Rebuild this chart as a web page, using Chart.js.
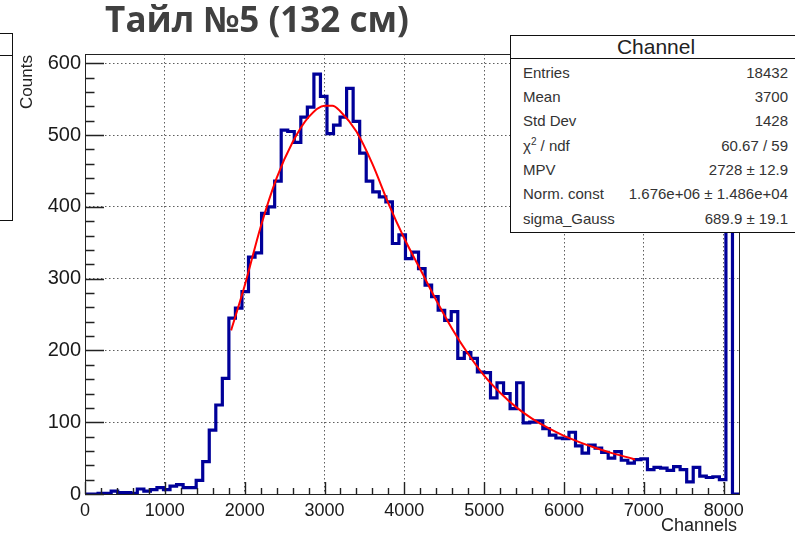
<!DOCTYPE html>
<html>
<head>
<meta charset="utf-8">
<script src="https://cdn.jsdelivr.net/npm/chart.js@4.4.0/dist/chart.umd.min.js"></script>
<style>
  body { margin: 0; background: #fff; }
  #wrap { position: relative; width: 795px; height: 536px; overflow: hidden; font-family: "Liberation Sans", Arial, sans-serif; color: #222; }
  #chart { position: absolute; left: 0; top: 0; }
  #title { position: absolute; left: 0; top: 1px; width: 514px; text-align: center; font: bold 35px/35px "Open Sans", sans-serif; color: #404040; white-space: nowrap; }
  #ylabel { position: absolute; left: -3.5px; top: 72px; width: 60px; height: 20px; line-height: 20px; font-size: 17px; text-align: center; transform: rotate(-90deg); }
  #xlabel { position: absolute; right: 58px; top: 514.7px; line-height: 20px; font-size: 18px; }
  #stats { position: absolute; left: 510px; top: 35px; width: 300px; height: 198px; border: 1px solid #111; background: #fff; box-sizing: border-box; }
  #stats .head { height: 22px; line-height: 22px; border-bottom: 1px solid #111; font-size: 21px; text-align: center; padding-right: 8px; }
  #stats .rows { margin-top: 1.6px; }
  #stats .row { display: flex; justify-content: space-between; height: 24.35px; line-height: 24.35px; font-size: 15px; padding: 0 21px 0 12px; color: #333; }
  #stats sup { font-size: 10px; line-height: 0; vertical-align: 6px; }
  #leftbox { position: absolute; left: -20px; top: 33px; width: 33px; height: 188px; border: 1px solid #111; box-sizing: border-box; background: #fff; }
  #leftbox div { height: 21px; border-bottom: 1px solid #111; }
</style>
</head>
<body>
<div id="wrap">
  <canvas id="chart" width="795" height="536"></canvas>
  <div id="title">Тайл №5 (132 см)</div>
  <div id="ylabel">Counts</div>
  <div id="xlabel">Channels</div>
  <div id="leftbox"><div></div></div>
  <div id="stats"><div class="head">Channel</div><div class="rows"></div></div>
</div>
<script>
// histogram: 100 bins over 0..8192 channels
var xMin = 0, xMax = 8192, nBins = 100;
var counts = [
  0, 0, 1, 1, 4, 2, 2, 1, 7, 4,
  6, 9, 6, 11, 13, 9, 9, 19, 45, 89,
  124, 161, 245, 259, 282, 330, 336, 391, 400, 436,
  507, 505, 490, 525, 539, 585, 554, 502, 514, 525,
  565, 519, 475, 436, 421, 414, 407, 349, 361, 328,
  337, 314, 291, 275, 256, 242, 254, 189, 197, 189,
  170, 169, 134, 155, 140, 119, 155, 99, 100, 102,
  91, 82, 78, 77, 86, 67, 57, 68, 64, 58,
  50, 59, 47, 43, 48, 49, 34, 37, 36, 33,
  38, 34, 17, 37, 25, 23, 24, 20, 440, 0
];

// fit curve (Landau x Gauss)
var fitX = [1830, 2000, 2200, 2400, 2600, 2800, 3000, 3100, 3200, 3400, 3600, 3800, 4000, 4200, 4400, 4600, 4800, 5000, 5200, 5400, 5600, 5800, 6000, 6200, 6400, 6600, 6800, 6890];
var fitY = [228, 290, 372, 440, 490, 525, 541, 541, 533, 505, 460, 405, 356, 313, 270, 230, 195, 165, 141, 121, 105, 92, 81, 72, 64, 57, 51, 48];

var yMax = 613;
var xTicks = [0, 1000, 2000, 3000, 4000, 5000, 6000, 7000, 8000];
var yTicks = [0, 100, 200, 300, 400, 500, 600];

var statLabels = ["Entries", "Mean", "Std Dev", "χ<sup>2</sup> / ndf", "MPV", "Norm. const", "sigma_Gauss"];
var statValues = ["18432", "3700", "1428", "60.67 / 59", "2728 ± 12.9", "1.676e+06 ± 1.486e+04", "689.9 ± 19.1"];

var rowsEl = document.querySelector('#stats .rows');
for (var i = 0; i < statLabels.length; i++) {
  var r = document.createElement('div');
  r.className = 'row';
  r.innerHTML = '<span>' + statLabels[i] + '</span><span>' + statValues[i] + '</span>';
  rowsEl.appendChild(r);
}

var binWidth = (xMax - xMin) / nBins;
var histPoints = [];
for (var i = 0; i <= nBins; i++) {
  histPoints.push({ x: xMin + i * binWidth, y: i < nBins ? counts[i] : 0 });
}
var fitPoints = fitX.map(function (x, i) { return { x: x, y: fitY[i] }; });

// ROOT style frame and inside ticks
var rootFrame = {
  id: 'rootFrame',
  afterDatasetsDraw: function (chart) {
    var ctx = chart.ctx, a = chart.chartArea, xs = chart.scales.x, ys = chart.scales.y;
    ctx.save();
    ctx.strokeStyle = '#222';
    ctx.lineWidth = 1;
    ctx.strokeRect(Math.round(a.left) + 0.5, Math.round(a.top) + 0.5, Math.round(a.right - a.left), Math.round(a.bottom - a.top));
    ctx.beginPath();
    for (var v = 0; v <= yMax; v += 20) {
      var py = Math.round(ys.getPixelForValue(v)) + 0.5;
      var len = v % 100 === 0 ? 19 : 9.5;
      ctx.moveTo(a.left, py); ctx.lineTo(a.left + len, py);
    }
    for (var v = 0; v <= xMax; v += 200) {
      var px = Math.round(xs.getPixelForValue(v)) + 0.5;
      var len = v % 1000 === 0 ? 12 : 6;
      ctx.moveTo(px, a.bottom); ctx.lineTo(px, a.bottom - len);
    }
    ctx.lineWidth = 1.4;
    ctx.stroke();
    ctx.restore();
  }
};

new Chart(document.getElementById('chart'), {
  type: 'line',
  data: {
    datasets: [{
      label: 'fit',
      data: fitPoints,
      borderColor: '#ff0000',
      borderWidth: 2,
      pointRadius: 0,
      cubicInterpolationMode: 'monotone',
      fill: false
    }, {
      label: 'Channel',
      data: histPoints,
      borderColor: '#000099',
      borderWidth: 3.2,
      pointRadius: 0,
      stepped: true,
      borderJoinStyle: 'miter',
      fill: false
    }]
  },
  options: {
    responsive: false,
    animation: false,
    devicePixelRatio: 1,
    layout: { padding: { top: 54, right: 56, left: 0, bottom: 0 } },
    plugins: { legend: { display: false }, tooltip: { enabled: false } },
    scales: {
      x: {
        type: 'linear',
        min: xMin,
        max: xMax,
        afterFit: function (s) { s.height = 42; },
        afterBuildTicks: function (s) { s.ticks = xTicks.map(function (v) { return { value: v }; }); },
        ticks: { padding: 6, color: '#1a1a1a', font: { family: 'Liberation Sans', size: 18 }, maxRotation: 0, callback: function (v) { return String(v); } },
        grid: { color: 'rgba(40,40,40,0.75)', lineWidth: 1, drawTicks: false },
        border: { display: false, dash: [1.5, 2.5] }
      },
      y: {
        type: 'linear',
        min: 0,
        max: yMax,
        afterFit: function (s) { s.width = 85; },
        afterBuildTicks: function (s) { s.ticks = yTicks.map(function (v) { return { value: v }; }); },
        ticks: { padding: 4, color: '#1a1a1a', font: { family: 'Liberation Sans', size: 20 }, callback: function (v) { return String(v); } },
        grid: { color: 'rgba(40,40,40,0.75)', lineWidth: 1, drawTicks: false },
        border: { display: false, dash: [1.5, 2.5] }
      }
    }
  },
  plugins: [rootFrame]
});
</script>
</body>
</html>
